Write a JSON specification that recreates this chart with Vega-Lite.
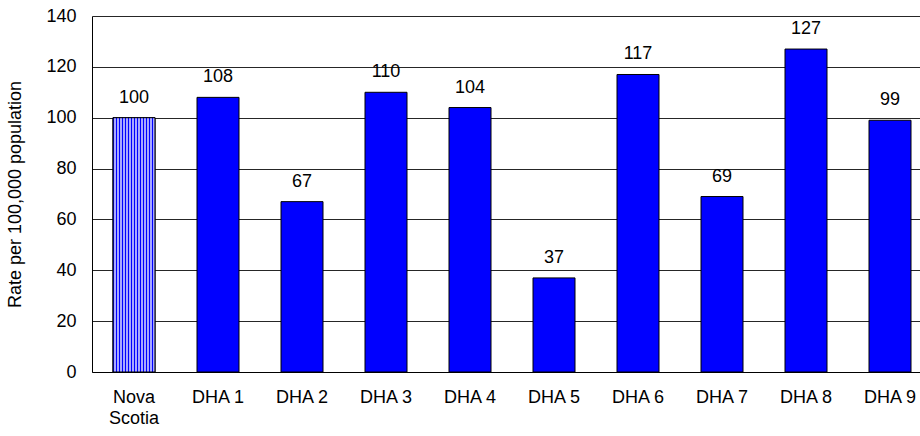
{
  "$schema": "https://vega.github.io/schema/vega-lite/v6.json",
  "autosize": "none",
  "width": 828,
  "height": 356,
  "padding": {"left": 92, "top": 16, "right": 0, "bottom": 64},
  "background": "white",
  "config": {
    "font": "Liberation Sans",
    "view": {"stroke": null}
  },
  "data": {
    "values": [
      {"region": "Nova Scotia", "rate": 100},
      {"region": "DHA 1", "rate": 108},
      {"region": "DHA 2", "rate": 67},
      {"region": "DHA 3", "rate": 110},
      {"region": "DHA 4", "rate": 104},
      {"region": "DHA 5", "rate": 37},
      {"region": "DHA 6", "rate": 117},
      {"region": "DHA 7", "rate": 69},
      {"region": "DHA 8", "rate": 127},
      {"region": "DHA 9", "rate": 99}
    ]
  },
  "encoding": {
    "x": {
      "field": "region",
      "type": "nominal",
      "sort": null,
      "scale": {"range": [0, 840], "paddingInner": 0.5, "paddingOuter": 0.25},
      "axis": {
        "title": null,
        "labelAngle": 0,
        "labelFontSize": 18,
        "labelColor": "#000",
        "labelPadding": 16,
        "labelLineHeight": 21,
        "labelExpr": "datum.label == 'Nova Scotia' ? ['Nova', 'Scotia'] : datum.label",
        "ticks": false,
        "domainColor": "#000",
        "grid": false
      }
    },
    "y": {
      "field": "rate",
      "type": "quantitative",
      "scale": {"domain": [0, 140], "nice": false},
      "axis": {
        "title": "Rate per 100,000 population",
        "titleFontSize": 18,
        "titleFontWeight": "normal",
        "titleColor": "#000",
        "titlePadding": 21,
        "values": [0, 20, 40, 60, 80, 100, 120, 140],
        "labelFontSize": 18,
        "labelColor": "#000",
        "labelPadding": 16,
        "ticks": false,
        "domainColor": "#000",
        "grid": true,
        "gridColor": "#000",
        "gridOpacity": 0.85
      }
    }
  },
  "layer": [
    {
      "mark": {"type": "bar", "fill": "#0000ff", "stroke": "#000", "strokeWidth": 1}
    },
    {
      "transform": [{"filter": "datum.region == 'Nova Scotia'"}],
      "mark": {
        "type": "bar",
        "stroke": "#000",
        "strokeWidth": 1,
        "fill": {
          "gradient": "linear",
          "x1": 0, "y1": 0, "x2": 1, "y2": 0,
          "stops": [
            {"offset": 0, "color": "#0000ff"}, {"offset": 0.0286, "color": "#0000ff"}, {"offset": 0.0286, "color": "#a8a8ff"}, {"offset": 0.0714, "color": "#a8a8ff"},
            {"offset": 0.0714, "color": "#0000ff"}, {"offset": 0.1, "color": "#0000ff"}, {"offset": 0.1, "color": "#a8a8ff"}, {"offset": 0.1429, "color": "#a8a8ff"},
            {"offset": 0.1429, "color": "#0000ff"}, {"offset": 0.1714, "color": "#0000ff"}, {"offset": 0.1714, "color": "#a8a8ff"}, {"offset": 0.2143, "color": "#a8a8ff"},
            {"offset": 0.2143, "color": "#0000ff"}, {"offset": 0.2429, "color": "#0000ff"}, {"offset": 0.2429, "color": "#a8a8ff"}, {"offset": 0.2857, "color": "#a8a8ff"},
            {"offset": 0.2857, "color": "#0000ff"}, {"offset": 0.3143, "color": "#0000ff"}, {"offset": 0.3143, "color": "#a8a8ff"}, {"offset": 0.3571, "color": "#a8a8ff"},
            {"offset": 0.3571, "color": "#0000ff"}, {"offset": 0.3857, "color": "#0000ff"}, {"offset": 0.3857, "color": "#a8a8ff"}, {"offset": 0.4286, "color": "#a8a8ff"},
            {"offset": 0.4286, "color": "#0000ff"}, {"offset": 0.4571, "color": "#0000ff"}, {"offset": 0.4571, "color": "#a8a8ff"}, {"offset": 0.5, "color": "#a8a8ff"},
            {"offset": 0.5, "color": "#0000ff"}, {"offset": 0.5286, "color": "#0000ff"}, {"offset": 0.5286, "color": "#a8a8ff"}, {"offset": 0.5714, "color": "#a8a8ff"},
            {"offset": 0.5714, "color": "#0000ff"}, {"offset": 0.6, "color": "#0000ff"}, {"offset": 0.6, "color": "#a8a8ff"}, {"offset": 0.6429, "color": "#a8a8ff"},
            {"offset": 0.6429, "color": "#0000ff"}, {"offset": 0.6714, "color": "#0000ff"}, {"offset": 0.6714, "color": "#a8a8ff"}, {"offset": 0.7143, "color": "#a8a8ff"},
            {"offset": 0.7143, "color": "#0000ff"}, {"offset": 0.7429, "color": "#0000ff"}, {"offset": 0.7429, "color": "#a8a8ff"}, {"offset": 0.7857, "color": "#a8a8ff"},
            {"offset": 0.7857, "color": "#0000ff"}, {"offset": 0.8143, "color": "#0000ff"}, {"offset": 0.8143, "color": "#a8a8ff"}, {"offset": 0.8571, "color": "#a8a8ff"},
            {"offset": 0.8571, "color": "#0000ff"}, {"offset": 0.8857, "color": "#0000ff"}, {"offset": 0.8857, "color": "#a8a8ff"}, {"offset": 0.9286, "color": "#a8a8ff"},
            {"offset": 0.9286, "color": "#0000ff"}, {"offset": 0.9571, "color": "#0000ff"}, {"offset": 0.9571, "color": "#a8a8ff"}, {"offset": 1, "color": "#a8a8ff"}
          ]
        }
      }
    },
    {
      "mark": {"type": "text", "fontSize": 18, "color": "#000", "baseline": "middle", "dy": -20},
      "encoding": {"text": {"field": "rate", "type": "quantitative"}}
    }
  ]
}
